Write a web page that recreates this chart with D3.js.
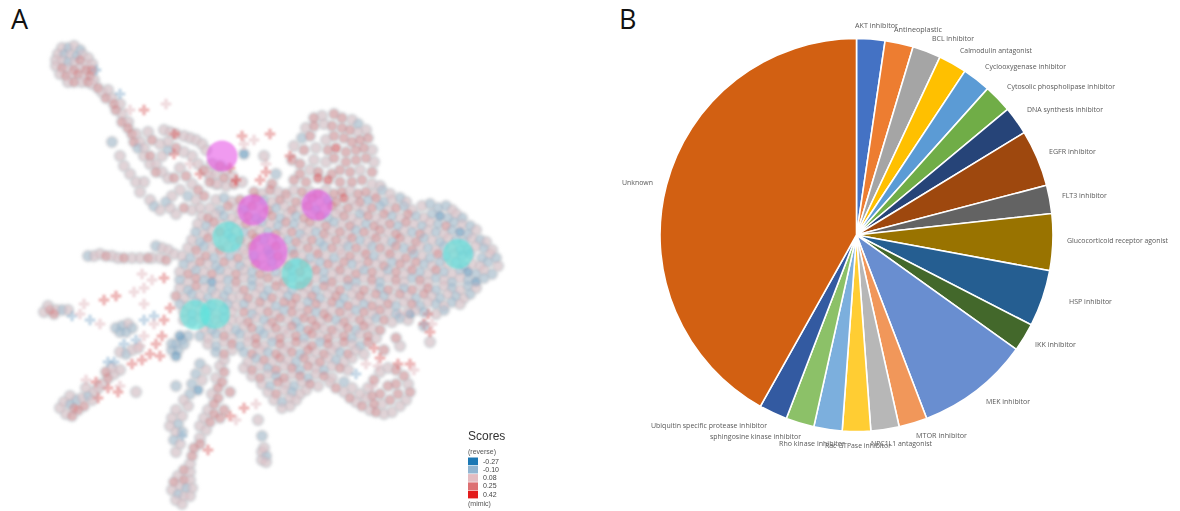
<!DOCTYPE html>
<html><head><meta charset="utf-8">
<script src="https://d3js.org/d3.v7.min.js"></script>
<style>html,body{margin:0;padding:0;background:#fff}svg{display:block}</style>
</head><body><svg id="c" width="1180" height="511"></svg>
<script>
const pieLabels=["AKT inhibitor","Antineoplastic","BCL inhibitor","Calmodulin antagonist","Cyclooxygenase inhibitor","Cytosolic phospholipase inhibitor","DNA synthesis inhibitor","EGFR inhibitor","FLT3 inhibitor","Glucocorticoid receptor agonist","HSP inhibitor","IKK inhibitor","MEK inhibitor","MTOR inhibitor","NPC1L1 antagonist","Rac GTPase inhibitor","Rho  kinase inhibitor","sphingosine kinase inhibitor","Ubiquitin specific protease inhibitor","Unknown"];
const pieValues=[1,1,1,1,1,1,1,2,1,2,2,1,4,1,1,1,1,1,1,18];
const pieColors=["#4472C4","#ED7D31","#A5A5A5","#FFC000","#5B9BD5","#70AD47","#264478","#9E480E","#636363","#997300","#255E91","#43682B","#698ED0","#F1975A","#B7B7B7","#FFCD33","#7CAFDD","#8CC168","#335AA1","#D26012"];
const labelLeft=[855,894,932,960,985,1007,1027,1049,1062,1067,1069,1035,986,916,871,825,779,710,651,622];
const labelMid=[26,30,39,51,67,87,110,152,196,241,302,345,402,436,444,446,444,437,426,183];
const labelWidth=[43,48,42,72,81,108,76,47,45,101,43,41,44,51,61,66,66,91,116,31];
const scoreValues=[-0.27,-0.10,0.08,0.25,0.42];
const scoreColors=["#1f78b4","#91b5d1","#e4bcc1","#dd6f72","#e31a1c"];
const hitsMimic=[[111,78,15.5],[126.5,105,15.5],[158.5,102.5,15.5],[134,126,19.5]];
const hitsReverse=[[114,118.5,15.5],[148.5,137,15.5],[229,127,15],[97.5,157.5,15],[107.5,157,15]];
const crossPoints=[[48,35,1],[60,47,1],[72,55,3],[83,52,2],[65,55,2],[87,67,3],[121,68,3],[127,70,2],[135,67,3],[122,72,2],[133,82,2],[133,86,3],[130,90,3],[118,90,4],[145,78,3],[115,84,3],[100,87,3],[95,82,2],[87,77,3],[71,137,2],[76,140,2],[82,139,3],[52,150,3],[58,148,3],[67,146,2],[72,144,2],[42,152,2],[36,158,1],[40,157,2],[45,160,1],[50,162,2],[72,152,2],[77,158,1],[72,160,1],[82,160,3],[85,154,3],[77,162,2],[72,168,2],[68,170,1],[81,168,3],[78,172,3],[75,177,3],[80,178,3],[70,173,2],[71,180,3],[66,182,3],[54,181,1],[57,181,1],[62,172,1],[43,190,2],[48,191,3],[54,194,3],[60,193,2],[59,196,3],[49,199,3],[122,204,3],[118,210,2],[115,208,3],[128,202,2],[104,225,3],[91,218,1],[190,179,3],[199,182,3],[205,182,3],[207,185,2],[187,174,3],[212,162,3],[216,162,2],[215,166,3],[214,157,3],[200,157,2],[183,182,2],[189,183,2],[178,187,1],[186,193,2]];
const circlePoints=[
[31,24,2],[34,24,1],[37,23,2],[40,25,1],[29,27,2],[32,27,1],[35,27,2],[38,28,1],[41,27,2],[44,29,2],[28,30,2],[31,30,2],[34,31,1],[37,31,2],[40,30,3],[43,32,2],[46,32,2],[28,33,2],[31,34,3],[34,34,2],[37,35,3],[40,34,2],[43,35,3],[46,35,3],[30,37,2],[33,38,3],[36,37,2],[39,37,3],[42,38,2],[45,38,3],[34,41,2],[37,41,3],[41,41,2],[44,41,3],[47,40,2],
[46,42,2],[49,44,3],[51,46,2],[54,45,2],[53,49,3],[56,49,2],[57,52,3],[60,52,2],[58,55,3],[61,57,2],[61,61,3],[64,61,2],[64,64,3],[66,67,3],[68,67,2],[67,71,3],[70,71,2],[69,74,1],[72,74,2],[72,78,2],[75,78,3],[75,82,2],[78,82,2],[78,86,3],[81,86,2],[84,89,2],[87,89,3],[81,78,2],[84,75,1],[84,71,2],[80,72,2],[76,70,3],[74,66,2],
[82,65,2],[85,66,2],[88,67,3],[92,68,2],[95,69,2],[98,70,2],[101,72,2],[103,75,2],[88,74,3],[92,76,2],[96,78,2],[99,82,2],[102,85,3],[105,88,2],[108,92,2],[90,84,2],[93,88,3],[96,92,2],[99,95,3],[90,95,2],[94,98,1],[98,100,2],[102,98,3],[86,98,2],[83,101,1],[75,100,2],[77,103,1],[80,105,2],[85,104,2],[88,107,2],[92,104,3],[96,105,2],[100,104,2],
[106,82,2],[110,83,3],[113,85,2],[104,86,2],[108,87,2],[112,89,3],[116,88,2],[105,91,3],[109,92,2],[113,93,2],[117,92,3],[121,91,2],[122,77,0],
[56,71,1],[60,78,2],[62,83,2],[65,87,2],[68,91,2],[72,91,2],[70,96,2],[138,87,1],[136,92,3],[132,78,2],[88,193,1],[129,210,2],[68,196,2],[198,169,3],[212,163,1],[215,171,2],[192,175,3],[200,173,2],[205,157,0],
[44,128,1],[47,128,2],[50,127,2],[53,128,3],[56,128,2],[59,129,2],[62,129,3],[66,129,2],[70,129,2],[74,129,3],[78,123,1],[81,124,2],[84,125,2],[87,127,2],[76,129,2],[80,129,2],[83,130,3],
[22,156,2],[25,155,3],[28,155,2],[31,155,1],[34,155,2],[24,153,2],[27,157,3],
[58,164,1],[61,163,1],[64,162,2],[66,164,1],[60,166,1],[63,166,1],[60,176,2],[63,177,1],[66,175,2],[69,174,2],
[86,175,1],[88,172,1],[91,170,1],[94,168,1],[89,175,1],[92,172,1],[90,168,0],[86,172,1],[88,178,0],
[30,204,2],[33,207,2],[36,208,3],[39,205,3],[42,203,3],[32,201,2],[35,202,1],[38,200,1],[41,199,2],[44,198,1],[47,196,2],[46,200,2],[49,194,2],[43,194,2],[37,204,3],[35,198,2],[51,192,2],[54,189,3],[57,187,2],[60,185,2],[53,186,3],[56,184,2],
[100,182,1],[103,185,2],[98,187,1],[101,190,2],[96,192,1],[99,195,0],[95,197,1],[92,200,2],[94,203,2],[88,205,2],[91,208,2],[86,209,2],[89,212,1],[85,213,2],[88,216,2],[91,216,1],[87,220,1],[90,222,2],[88,226,2],[96,228,3],[95,232,2],
[92,235,3],[95,236,2],[89,238,2],[92,240,3],[95,240,2],[87,241,3],[90,243,2],[93,244,1],[96,244,2],[86,245,2],[89,247,1],[92,248,2],[95,248,2],[88,250,2],[91,252,2],
[110,183,2],[112,186,3],[108,189,2],[111,191,3],[109,194,3],[106,197,2],[109,199,3],[107,202,3],[104,205,2],[107,207,3],[102,209,2],[105,211,3],[100,213,2],[103,215,2],[100,219,2],[97,224,3],[100,222,3],[115,196,3],[112,205,3],[110,209,3],
[131,226,2],[133,228,1],[131,230,2],[133,231,2],[132,224,2],[131,218,1],
[157,59,3],[161,58,2],[167,57,3],[171,59,3],[176,60,2],[179,62,1],[153,64,2],[157,63,3],[162,62,2],[166,63,3],[171,64,3],[175,65,3],[179,66,2],[183,65,2],[151,69,1],[155,68,3],[163,70,2],[167,68,3],[172,69,3],[176,71,3],[180,70,3],[184,69,3],[147,73,2],[152,75,3],[158,74,2],[164,75,3],[168,74,4],[173,76,3],[178,75,3],[182,74,3],[186,75,2],[146,80,3],[150,82,3],[157,80,2],[163,81,2],[167,79,3],[173,81,3],[178,80,3],[183,79,3],[187,81,2],[150,87,3],[155,85,2],[159,86,3],[166,87,3],[170,85,3],[175,86,3],[180,85,2],[186,86,3],[147,90,3],[153,91,3],[159,89,4],[164,90,4],[170,91,3],[176,91,3],[181,90,3],[186,92,2],[190,93,2],
[127,96,3],[131,97,2],[135,95,3],[139,96,2],[143,97,3],[147,95,2],[151,96,3],[155,96,2],[159,97,3],[163,95,2],[167,97,3],[171,96,3],[175,95,2],[179,97,3],[183,96,3],[187,97,2],[191,95,1],[195,97,2],
[108,100,2],[112,99,1],[116,101,2],[120,100,3],[124,101,2],[128,99,3],[132,100,1],[136,101,2],[140,100,3],[144,99,2],[148,101,3],[152,100,2],[156,99,3],[160,101,2],[164,100,1],[168,101,3],[172,99,4],[176,100,2],[180,101,3],[184,100,1],[188,99,3],[192,101,1],[196,100,2],[200,99,1],[203,101,2],
[105,104,2],[110,105,1],[114,103,3],[118,104,2],[122,105,1],[126,103,3],[130,104,2],[134,105,3],[138,104,1],[142,103,2],[146,105,3],[150,104,2],[154,103,3],[158,105,1],[162,104,2],[166,103,3],[170,105,2],[174,104,3],[178,103,2],[182,105,2],[186,104,3],[190,103,1],[194,105,2],[198,104,3],[202,103,1],[206,105,2],[211,103,2],[215,102,1],[219,104,1],[223,103,1],[226,105,2],
[101,108,2],[104,109,3],[108,107,2],[112,108,1],[116,109,2],[120,107,2],[124,108,3],[128,109,1],[132,107,2],[136,108,3],[140,109,1],[144,107,2],[148,108,1],[152,109,3],[156,107,2],[160,108,3],[164,109,1],[168,107,2],[172,108,3],[176,109,2],[180,107,1],[184,108,3],[188,109,2],[192,107,3],[196,108,1],[200,109,2],[204,107,3],[208,108,1],[212,109,2],[216,107,1],[220,108,0],[224,109,1],[228,107,2],[231,109,1],
[99,112,2],[103,113,1],[107,111,3],[111,112,2],[115,113,1],[119,111,2],[123,112,3],[127,113,2],[131,111,1],[135,112,2],[139,113,1],[143,111,3],[147,112,1],[151,113,2],[155,111,3],[159,112,2],[163,113,3],[167,111,1],[171,112,2],[175,113,3],[179,111,2],[183,112,1],[187,113,3],[191,111,2],[195,112,3],[199,113,1],[203,111,3],[207,112,2],[211,113,1],[215,111,2],[219,112,1],[223,113,3],[227,111,1],[231,112,2],[235,113,1],
[98,116,1],[102,117,2],[106,115,2],[110,116,3],[114,117,1],[118,115,2],[122,116,1],[126,117,3],[130,115,2],[134,116,1],[138,117,3],[142,115,2],[146,116,3],[150,117,1],[154,115,2],[158,116,1],[162,117,3],[166,115,2],[170,116,3],[174,117,2],[178,115,1],[182,116,3],[186,117,2],[190,115,3],[194,116,2],[198,117,3],[202,115,2],[206,116,1],[210,117,3],[214,115,2],[218,116,1],[222,117,2],[226,115,1],[230,116,0],[234,117,1],[238,115,2],
[96,120,2],[100,121,1],[104,119,3],[108,120,2],[112,121,2],[116,119,1],[120,120,3],[124,121,2],[128,119,3],[132,120,1],[136,121,2],[140,119,2],[144,120,1],[148,121,3],[152,119,2],[156,120,3],[160,121,1],[164,119,2],[168,120,3],[172,121,2],[176,119,3],[180,120,1],[184,121,2],[188,119,3],[192,120,2],[196,121,1],[200,119,3],[204,120,2],[208,121,3],[212,119,1],[216,120,2],[220,121,1],[224,119,2],[228,120,1],[232,121,1],[236,119,2],[240,120,1],[243,121,2],
[94,124,2],[98,125,3],[102,123,1],[106,124,2],[110,125,3],[114,123,2],[118,124,1],[122,125,2],[126,123,3],[130,124,2],[134,125,1],[138,123,3],[142,124,2],[146,125,1],[150,123,2],[154,124,3],[158,125,2],[162,123,1],[166,124,3],[170,125,2],[174,123,1],[178,124,3],[182,125,2],[186,123,1],[190,124,3],[194,125,2],[198,123,3],[202,124,1],[206,125,3],[210,123,2],[214,124,1],[218,125,2],[222,123,1],[226,124,2],[230,125,1],[234,125,1],[238,123,2],[242,124,1],[246,125,2],
[91,128,2],[95,129,1],[99,127,2],[103,128,3],[107,129,1],[111,127,2],[115,128,1],[119,129,3],[123,127,2],[127,128,1],[131,129,2],[135,127,1],[139,128,3],[143,129,2],[147,127,3],[151,128,2],[155,129,1],[159,127,3],[163,128,2],[167,129,1],[171,127,2],[175,128,3],[179,129,2],[183,127,3],[187,128,1],[191,129,2],[195,127,3],[199,128,2],[203,129,3],[207,127,1],[211,128,2],[215,129,1],[219,127,3],[223,128,1],[227,127,2],[231,128,1],[235,127,1],[241,129,1],[245,127,2],[248,129,1],
[92,132,1],[96,133,2],[100,131,3],[104,132,2],[108,133,1],[112,131,3],[116,132,2],[120,133,1],[124,131,2],[128,132,3],[132,133,2],[136,131,1],[140,132,2],[144,133,3],[148,131,1],[152,132,3],[156,133,2],[160,131,1],[164,132,3],[168,133,2],[172,131,3],[176,132,1],[180,133,2],[184,131,3],[188,132,2],[192,133,3],[196,131,1],[200,132,3],[204,133,2],[208,131,3],[212,132,1],[216,133,2],[220,131,1],[224,132,2],[228,131,1],[232,133,1],[236,132,2],[240,133,2],[244,131,1],[249,133,2],
[90,136,2],[94,137,3],[98,135,1],[102,136,2],[106,137,3],[110,135,1],[114,136,2],[118,137,3],[122,135,2],[126,136,1],[130,137,3],[134,135,2],[138,136,1],[142,137,2],[146,135,1],[150,136,3],[154,137,2],[158,135,3],[162,136,1],[166,137,2],[170,135,3],[174,136,2],[178,137,3],[182,135,1],[186,136,3],[190,137,2],[194,135,1],[198,136,3],[202,137,2],[206,135,3],[210,136,1],[214,137,2],[218,135,3],[222,136,1],[226,137,2],[230,135,1],[234,136,0],[238,137,1],[242,135,2],[246,137,1],
[90,140,1],[94,141,2],[98,139,3],[102,140,1],[106,141,0],[110,139,2],[114,140,1],[118,141,3],[122,139,2],[126,140,1],[130,141,2],[134,139,3],[138,140,2],[142,141,3],[146,139,1],[150,140,2],[154,141,3],[158,139,2],[162,140,1],[166,141,3],[170,139,2],[174,140,3],[178,141,1],[182,139,2],[186,140,3],[190,141,1],[194,139,2],[198,140,3],[202,141,2],[206,139,1],[210,140,3],[214,141,2],[218,139,1],[222,140,2],[226,141,1],[230,139,2],[234,140,1],[238,141,0],[242,139,1],
[90,144,2],[94,145,1],[98,143,3],[102,144,2],[106,145,1],[110,143,2],[114,145,1],[118,144,2],[122,145,3],[126,143,1],[130,144,2],[134,145,1],[138,143,3],[142,144,2],[146,145,1],[150,143,3],[154,144,2],[158,145,1],[162,143,3],[166,144,2],[170,145,3],[174,143,1],[178,144,2],[182,145,3],[186,143,2],[190,144,1],[194,145,3],[198,143,2],[202,144,1],[206,145,3],[210,143,2],[214,144,3],[218,145,1],[222,143,2],[226,144,1],[230,145,2],[234,143,1],[238,144,2],
[88,148,3],[92,149,2],[96,147,1],[100,148,2],[104,149,1],[108,147,2],[112,148,1],[116,149,2],[120,148,2],[124,149,3],[128,147,2],[132,148,1],[136,149,3],[140,147,2],[144,148,1],[148,149,3],[152,147,2],[156,148,3],[160,149,1],[164,147,2],[168,148,3],[172,149,1],[176,147,2],[180,148,3],[184,149,2],[188,147,3],[192,148,1],[196,149,2],[200,147,3],[204,148,2],[208,149,1],[212,147,3],[216,148,2],[220,149,1],[224,147,2],[228,148,1],[232,149,2],[235,147,1],
[90,152,1],[94,153,2],[98,151,1],[102,152,2],[106,153,1],[110,151,2],[114,152,1],[118,153,2],[122,152,1],[126,153,2],[130,151,3],[134,152,2],[138,153,1],[142,151,3],[146,152,3],[150,153,2],[154,151,1],[158,152,3],[162,153,2],[166,151,3],[170,152,1],[174,153,3],[178,151,2],[182,152,1],[186,153,3],[190,151,2],[194,152,3],[198,153,1],[202,151,2],[206,152,3],[210,153,1],[214,151,2],[218,152,1],[222,153,2],[226,151,1],[230,152,2],
[92,156,2],[96,157,1],[100,155,2],[104,156,1],[108,157,2],[112,155,1],[116,156,2],[122,156,3],[126,157,1],[130,155,2],[134,156,3],[138,157,2],[142,155,1],[146,156,3],[150,157,2],[154,155,3],[158,156,1],[162,157,3],[166,155,2],[170,156,3],[174,157,2],[178,155,1],[182,156,3],[186,157,2],[190,155,3],[194,156,2],[198,157,1],[204,156,2],[208,155,2],[212,156,1],[218,157,2],[222,155,1],
[92,160,2],[96,161,1],[100,159,2],[104,161,1],[108,160,2],[112,159,1],[116,160,2],[120,160,2],[124,161,3],[128,159,2],[132,160,1],[136,161,3],[140,159,3],[144,160,2],[148,161,1],[152,159,3],[156,160,3],[160,161,2],[164,159,3],[168,160,1],[172,161,3],[176,159,2],[180,160,3],[184,161,2],[188,159,1],[192,160,3],[196,161,2],[200,159,1],[204,160,2],
[102,164,2],[106,165,1],[110,163,2],[114,164,2],[118,165,1],[122,163,2],[126,164,3],[130,165,1],[134,163,2],[138,164,3],[142,165,2],[146,163,3],[150,164,1],[154,165,3],[158,163,3],[162,164,2],[166,165,3],[170,163,2],[174,164,3],[178,165,1],[182,163,3],[186,164,2],[190,165,3],
[100,168,1],[104,169,2],[108,167,1],[112,168,3],[116,169,2],[120,167,1],[124,168,2],[128,169,3],[132,167,1],[136,168,2],[140,169,3],[144,167,2],[148,168,3],[152,169,1],[156,167,3],[160,168,2],[164,169,3],[168,167,2],[172,168,3],[176,169,1],[180,167,2],[184,168,3],[188,169,2],
[104,172,2],[108,173,1],[112,171,2],[116,172,3],[120,173,1],[124,171,2],[128,172,3],[132,173,2],[136,171,1],[140,172,3],[144,173,2],[148,171,3],[152,172,2],[156,173,3],[160,171,1],[164,172,3],[168,173,2],[172,171,3],[176,172,2],[180,173,1],[184,171,3],
[108,176,1],[112,177,3],[116,175,2],[122,176,1],[126,177,3],[130,175,2],[134,176,1],[138,177,3],[142,175,2],[146,176,3],[150,177,1],[154,175,3],[158,176,2],[162,177,3],[166,175,2],[170,176,1],[174,177,3],[178,175,2],[182,177,2],
[112,180,2],[124,181,2],[128,179,1],[132,180,3],[136,181,2],[140,179,3],[144,180,2],[148,181,1],[152,179,3],[156,180,2],[160,181,3],[164,179,2],[168,180,1],[172,181,2],[176,179,2],
[122,184,2],[126,185,3],[130,183,2],[134,184,1],[138,185,3],[142,183,2],[146,184,3],[150,185,1],[154,183,3],[158,184,2],[162,185,1],[166,183,2],[170,184,3],[174,185,2],
[126,188,2],[130,189,3],[134,187,2],[138,188,1],[142,189,3],[146,187,2],[150,188,3],[154,189,1],[158,187,2],[162,188,3],[166,189,2],
[131,192,2],[135,193,1],[139,191,3],[143,192,2],[147,193,1],[151,191,2],[155,192,3],[159,193,2],
[134,196,2],[138,197,3],[142,195,2],[146,196,1],[150,197,2],[153,195,2],
[137,200,2],[141,201,1],[145,199,2],[148,200,2],[141,204,2],[145,203,2],
[165,191,2],[168,194,3],[172,196,2],[175,199,3],[178,201,2],[181,203,3],[185,205,2],[188,206,3],[192,207,2],[196,206,2],[200,203,2],[203,200,2],[205,196,3],[204,192,2],[202,188,3],[198,185,3],[194,184,2],[190,186,2],[187,190,3],[184,194,2],[186,198,3],[190,197,3],[194,193,3],[198,192,3],[199,197,3],[195,200,3],[191,202,2],[187,202,3],[183,199,2],[180,197,2],[176,194,2],[172,191,1]];

const svg=d3.select("#c");
const defs=svg.append("defs");
defs.append("filter").attr("id","soft").append("feGaussianBlur").attr("stdDeviation",1.05);
defs.append("filter").attr("id","softer").append("feGaussianBlur").attr("stdDeviation",0.25);
defs.append("filter").attr("id","dens").append("feGaussianBlur").attr("stdDeviation",1.4);

const x=d3.scaleLinear().domain([0,250]).range([0,500]);
const y=d3.scaleLinear().domain([0,255]).range([0,510]);
const scoreColor=d3.scaleOrdinal(scoreValues.map((_,i)=>i),scoreColors);

svg.append("text").text("A").attr("x",11).attr("y",29).attr("font-family","Open Sans").attr("font-size",27).attr("fill","#111");
svg.append("text").text("B").attr("x",619).attr("y",29).attr("font-family","Open Sans").attr("font-size",27).attr("fill","#111");

const density=svg.append("g").attr("filter","url(#dens)");
density.selectAll("circle").data(circlePoints).join("circle")
 .attr("cx",d=>x(d[0])).attr("cy",d=>y(d[1])).attr("r",6.5).attr("fill","#d4d5da").attr("fill-opacity",0.75);

const scatter=svg.append("g").attr("filter","url(#soft)");
const circleSym=d3.symbol().type(d3.symbolCircle).size(66)();
const crossSym=d3.symbol().type(d3.symbolCross).size(62)();
scatter.selectAll("path.cr").data(crossPoints).join("path").attr("class","cr").attr("d",crossSym)
 .attr("transform",d=>`translate(${x(d[0])},${y(d[1])})`).attr("fill",d=>scoreColor(d[2])).attr("fill-opacity",0.5);
scatter.selectAll("path.ci").data(circlePoints).join("path").attr("class","ci").attr("d",circleSym)
 .attr("transform",d=>`translate(${x(d[0])},${y(d[1])})`).attr("fill",d=>scoreColor(d[2])).attr("fill-opacity",0.34)
 .attr("stroke","#8a8f96").attr("stroke-opacity",0.14).attr("stroke-width",1);
const hits=svg.append("g").attr("filter","url(#soft)");
hits.selectAll("circle.m").data(hitsMimic).join("circle").attr("class","m").attr("cx",d=>x(d[0])).attr("cy",d=>y(d[1])).attr("r",d=>d[2]).attr("fill","#e650e6").attr("fill-opacity",0.58);
hits.selectAll("circle.r").data(hitsReverse).join("circle").attr("class","r").attr("cx",d=>x(d[0])).attr("cy",d=>y(d[1])).attr("r",d=>d[2]).attr("fill","#52e6dc").attr("fill-opacity",0.58);

const lg=svg.append("g").attr("font-family","Liberation Sans").attr("fill","#333").attr("filter","url(#softer)");
lg.append("text").text("Scores").attr("x",468).attr("y",440).attr("font-size",12);
lg.append("text").text("(reverse)").attr("x",468).attr("y",453.5).attr("font-size",7).attr("fill","#555");
lg.append("text").text("(mimic)").attr("x",468).attr("y",505.5).attr("font-size",7).attr("fill","#555");
const band=d3.scaleBand().domain(scoreValues).range([457.5,499]);
lg.selectAll("rect").data(scoreValues).join("rect").attr("x",468).attr("y",d=>band(d)).attr("width",10).attr("height",band.bandwidth()-0.6).attr("fill",(d,i)=>scoreColors[i]);
lg.selectAll("text.v").data(scoreValues).join("text").attr("class","v").text(d=>d.toFixed(2)).attr("x",483).attr("y",d=>band(d)+6).attr("font-size",7).attr("fill","#444");

const pie=d3.pie().sort(null).value(d=>d)(pieValues);
const arc=d3.arc().innerRadius(0).outerRadius(196.5);
const gp=svg.append("g").attr("transform","translate(856.5,235)");
gp.selectAll("path").data(pie).join("path").attr("d",arc).attr("fill",(d,i)=>pieColors[i]).attr("stroke","#fff").attr("stroke-width",1.6);

svg.append("g").attr("font-family","Open Sans").attr("font-size",6.8).attr("fill","#595959").attr("filter","url(#softer)")
 .selectAll("text").data(pieLabels).join("text").text(d=>d)
 .attr("x",(d,i)=>labelLeft[i]).attr("y",(d,i)=>labelMid[i]+2.4)
 .attr("textLength",(d,i)=>labelWidth[i]).attr("lengthAdjust","spacingAndGlyphs");
</script></body></html>
